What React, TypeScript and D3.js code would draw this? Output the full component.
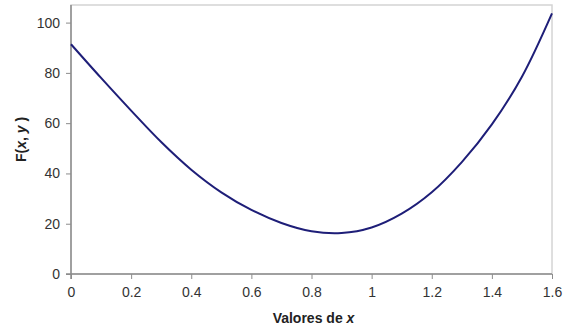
import React, { useEffect, useRef } from 'react';
import * as d3 from 'd3';

// x values and F(x, y)
const xValues = [0, 0.1, 0.2, 0.3, 0.4, 0.5, 0.6, 0.7, 0.8, 0.9, 1.0, 1.1, 1.2, 1.3, 1.4, 1.5, 1.6];
const fValues = [91.4, 78, 65, 52.5, 41.5, 32.5, 25.5, 20.3, 17, 16.3, 18.5, 24, 32.5, 44.5, 59.5, 78.5, 103.7];
const xTicks = [0, 0.2, 0.4, 0.6, 0.8, 1, 1.2, 1.4, 1.6];
const yTicks = [0, 20, 40, 60, 80, 100];

function App() {
  const ref = useRef<SVGSVGElement>(null);

  useEffect(() => {
    const width = 569;
    const height = 329;
    const margin = { top: 5, right: 17, bottom: 55, left: 71 };
    const font = 'Arial, "Liberation Sans", sans-serif';

    const svg = d3.select(ref.current);
    svg.selectAll('*').remove();

    const x = d3.scaleLinear().domain([0, 1.6]).range([margin.left, width - margin.right]);
    const y = d3.scaleLinear().domain([0, 107]).range([height - margin.bottom, margin.top]);

    // light frame round the plot
    svg.append('rect')
      .attr('x', margin.left)
      .attr('y', margin.top)
      .attr('width', width - margin.left - margin.right)
      .attr('height', height - margin.top - margin.bottom)
      .attr('fill', '#fff')
      .attr('stroke', '#d4d4d4')
      .attr('stroke-width', 1.5);

    const xAxis = svg.append('g')
      .attr('transform', `translate(0,${height - margin.bottom})`)
      .call(d3.axisBottom(x).tickValues(xTicks).tickSize(5).tickPadding(8).tickFormat(d => String(d)));

    const yAxis = svg.append('g')
      .attr('transform', `translate(${margin.left},0)`)
      .call(d3.axisLeft(y).tickValues(yTicks).tickSize(5).tickPadding(6).tickFormat(d => String(d)));

    [xAxis, yAxis].forEach(g => {
      g.select('.domain').attr('stroke', '#8c8c8c').attr('stroke-width', 1.5);
      g.selectAll('.tick line').attr('stroke', '#8c8c8c');
      g.selectAll('.tick text')
        .attr('fill', '#333')
        .style('font-family', font)
        .style('font-size', '14px');
    });
    yAxis.select('.domain').attr('d', `M${-5},${y(0)}H0V${margin.top}`);
    xAxis.select('.domain').attr('d', `M${margin.left},0V5M${margin.left},0H${width - margin.right}`);

    const line = d3.line<number>()
      .x((_, i) => x(xValues[i]))
      .y(d => y(d))
      .curve(d3.curveCatmullRom.alpha(0.5));

    svg.append('path')
      .datum(fValues)
      .attr('d', line)
      .attr('fill', 'none')
      .attr('stroke', '#1e1e78')
      .attr('stroke-width', 2);

    // axis titles
    const xLabel = svg.append('text')
      .attr('x', (margin.left + width - margin.right) / 2 + 2)
      .attr('y', 323)
      .attr('text-anchor', 'middle')
      .style('font-family', font)
      .style('font-size', '14px')
      .style('font-weight', 'bold')
      .attr('fill', '#222');
    xLabel.append('tspan').text('Valores de ');
    xLabel.append('tspan').attr('font-style', 'italic').text('x');

    const yLabel = svg.append('text')
      .attr('transform', `translate(26,${(margin.top + height - margin.bottom) / 2}) rotate(-90)`)
      .attr('text-anchor', 'middle')
      .style('font-family', font)
      .style('font-size', '14px')
      .style('font-weight', 'bold')
      .attr('fill', '#222');
    yLabel.append('tspan').text('F(');
    yLabel.append('tspan').attr('font-style', 'italic').text('x');
    yLabel.append('tspan').text(', ');
    yLabel.append('tspan').attr('font-style', 'italic').text('y');
    yLabel.append('tspan').text(' )');
  }, []);

  return (
    <div style={{ position: 'absolute', left: 0, top: 0, background: '#fff' }}>
      <svg ref={ref} width={569} height={329} style={{ display: 'block' }} />
    </div>
  );
}

export default App;
